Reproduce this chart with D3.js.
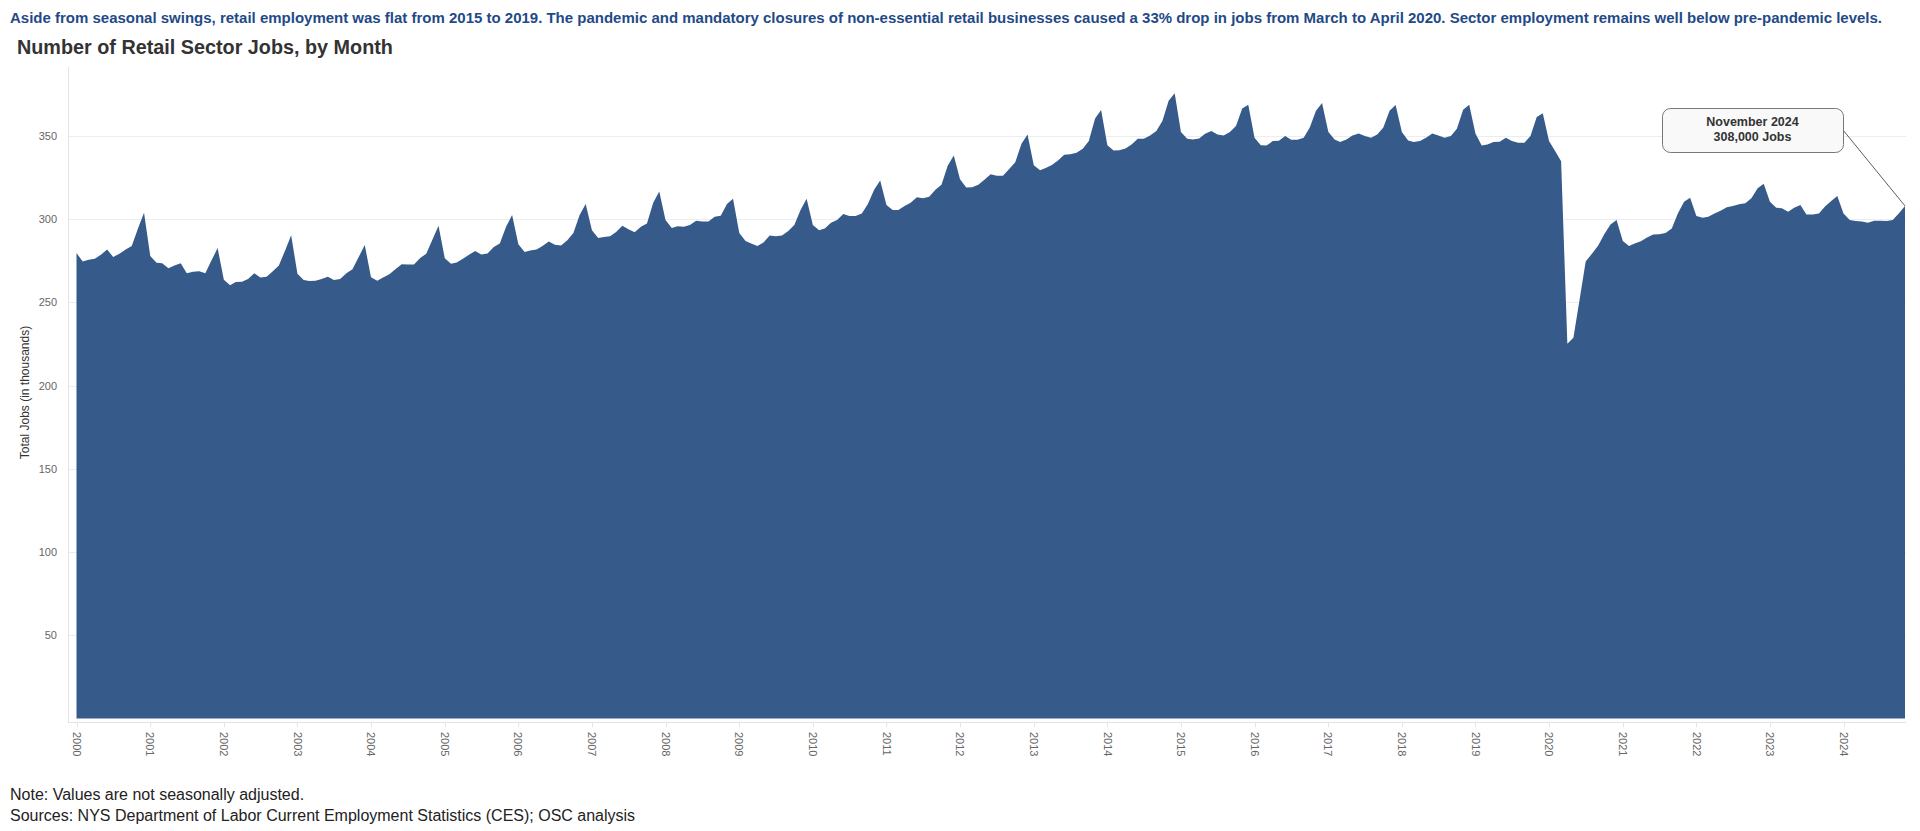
<!DOCTYPE html>
<html><head><meta charset="utf-8">
<script src="https://cdn.jsdelivr.net/npm/d3@7"></script>
<style>
body{margin:0;background:#fff;}
svg{display:block;font-family:Arial,"Liberation Sans",sans-serif;}
</style>
</head><body>
<svg id="chart" width="1920" height="831"></svg>
<script>
// ---------- data (thousands of jobs, monthly, Jan 2000 - Nov 2024) ----------
const startYear = 2000;
const startMonth = 0; // January
const jobs = [
  279.7, 274.6, 275.7, 276.3, 278.7, 281.9, 277.3, 279.3, 281.9, 283.9, 294.4, 303.9, // 2000
  277.9, 273.8, 273.6, 270.6, 272.2, 273.6, 267.6, 268.4, 268.8, 267.6, 275.3, 282.7, // 2001
  263.7, 260.3, 262.3, 262.5, 264.1, 267.6, 265.0, 265.4, 268.8, 272.2, 281.3, 290.4, // 2002
  267.2, 263.5, 262.9, 263.1, 264.1, 265.5, 263.5, 264.1, 267.6, 270.0, 277.3, 284.5, // 2003
  265.2, 263.1, 265.0, 267.0, 270.0, 273.0, 272.8, 272.8, 276.7, 279.3, 287.8, 296.1, // 2004
  276.6, 273.3, 274.0, 276.3, 278.7, 280.9, 278.9, 279.5, 283.3, 285.4, 295.5, 302.5, // 2005
  285.0, 280.3, 281.3, 281.9, 283.9, 286.6, 284.7, 284.3, 287.4, 291.8, 302.5, 309.2, // 2006
  293.4, 288.8, 289.4, 289.8, 292.4, 296.1, 294.0, 292.2, 295.5, 297.5, 310.0, 316.7, // 2007
  299.5, 294.8, 295.8, 295.5, 296.5, 299.1, 298.7, 298.7, 301.5, 302.1, 309.2, 312.4, // 2008
  291.8, 287.0, 285.4, 283.9, 286.0, 290.2, 289.8, 290.2, 293.0, 296.5, 305.6, 312.4, // 2009
  296.5, 293.4, 294.4, 297.9, 299.5, 303.1, 301.9, 301.9, 303.5, 309.2, 317.7, 323.3, // 2010
  308.6, 305.6, 305.6, 308.0, 310.0, 313.2, 312.6, 313.6, 317.7, 320.7, 332.2, 338.3, // 2011
  324.1, 319.1, 319.3, 320.7, 323.7, 327.0, 326.2, 326.2, 330.2, 334.2, 345.4, 351.0, // 2012
  332.4, 329.4, 330.8, 332.6, 335.3, 338.7, 339.1, 339.9, 342.3, 347.0, 360.5, 365.6, // 2013
  344.5, 341.3, 341.5, 342.5, 345.0, 348.4, 348.4, 350.4, 353.0, 359.1, 371.2, 375.7, // 2014
  352.4, 348.4, 348.0, 348.6, 351.4, 353.0, 351.0, 350.4, 352.4, 356.1, 366.6, 368.8, // 2015
  349.0, 344.5, 344.3, 347.0, 347.2, 350.0, 347.8, 347.8, 349.0, 355.1, 365.2, 369.8, // 2016
  352.6, 348.0, 346.4, 348.0, 350.4, 351.6, 350.0, 349.0, 351.0, 355.1, 365.2, 368.6, // 2017
  352.4, 347.4, 346.4, 347.0, 349.0, 351.6, 350.4, 349.0, 350.0, 354.4, 365.8, 368.8, // 2018
  351.6, 344.3, 344.9, 346.4, 346.6, 349.0, 347.0, 346.0, 346.0, 350.0, 361.5, 363.7, // 2019
  347.0, 340.9, 334.8, 225.2, 228.8, 252.0, 274.6, 279.3, 284.3, 291.0, 296.9, 299.5, // 2020
  287.0, 283.9, 285.4, 286.8, 289.0, 290.8, 291.0, 291.8, 294.4, 303.5, 310.6, 313.0, // 2021
  301.9, 300.9, 301.5, 303.5, 305.1, 307.2, 308.0, 309.0, 309.6, 312.6, 318.7, 321.3, // 2022
  310.6, 306.9, 306.6, 304.5, 306.9, 308.6, 302.9, 302.9, 303.5, 307.6, 311.0, 314.0, // 2023
  303.5, 299.5, 298.9, 298.7, 297.9, 299.1, 299.1, 298.9, 299.5, 303.5, 308.0          // 2024
];
const yTicks = [50, 100, 150, 200, 250, 300, 350];
const xTickYears = d3.range(2000, 2025);
const annotationLines = ["November 2024", "308,000 Jobs"];
const subtitleText = "Aside from seasonal swings, retail employment was flat from 2015 to 2019. The pandemic and mandatory closures of non-essential retail businesses caused a 33% drop in jobs from March to April 2020. Sector employment remains well below pre-pandemic levels.";
const titleText = "Number of Retail Sector Jobs, by Month";
const yAxisTitle = "Total Jobs (in thousands)";
const footNotes = ["Note: Values are not seasonally adjusted.",
                   "Sources: NYS Department of Labor Current Employment Statistics (CES); OSC analysis"];

// ---------- build ----------
const data = jobs.map((v, i) => ({date: new Date(startYear, startMonth + i, 1), value: v}));
const last = data[data.length - 1];

const svg = d3.select("#chart");
const plotLeft = 68, plotRight = 1906, plotTop = 67, axisY = 722;

const x = d3.scaleTime()
  .domain([data[0].date, last.date])
  .range([76.5, 1905]);
const y = d3.scaleLinear()
  .domain([0, 391.5])
  .range([718.5, plotTop]);

// subtitle & title
svg.append("text").attr("x", 10).attr("y", 23).attr("font-size", 14).attr("font-weight", "bold")
  .attr("fill", "#1f4a87").attr("textLength", 1872).attr("lengthAdjust", "spacingAndGlyphs")
  .text(subtitleText);
svg.append("text").attr("x", 17).attr("y", 53.5).attr("font-size", 19.8).attr("font-weight", "bold")
  .attr("fill", "#333").text(titleText);

// gridlines
svg.append("g").selectAll("line").data(yTicks).join("line")
  .attr("x1", plotLeft).attr("x2", plotRight)
  .attr("y1", d => Math.round(y(d)) + 0.5).attr("y2", d => Math.round(y(d)) + 0.5)
  .attr("stroke", "#ededed").attr("stroke-width", 1);

// area
const area = d3.area()
  .x(d => x(d.date))
  .y0(y(0))
  .y1(d => y(d.value));
svg.append("path").datum(data).attr("d", area).attr("fill", "#365a89");

// y axis line
svg.append("line").attr("x1", plotLeft + 0.5).attr("x2", plotLeft + 0.5)
  .attr("y1", plotTop).attr("y2", axisY).attr("stroke", "#e3e3e3");
// x axis line
svg.append("line").attr("x1", plotLeft).attr("x2", plotRight)
  .attr("y1", axisY + 0.5).attr("y2", axisY + 0.5).attr("stroke", "#e3e3e3");

// y tick labels
svg.append("g").selectAll("text").data(yTicks).join("text")
  .attr("x", 57).attr("y", d => y(d)).attr("dy", "0.35em")
  .attr("text-anchor", "end").attr("font-size", 11).attr("fill", "#666")
  .text(d => d);

// y axis title
svg.append("text").attr("transform", `translate(25,${(plotTop + 718) / 2}) rotate(-90)`)
  .attr("text-anchor", "middle").attr("dy", "0.35em").attr("font-size", 12).attr("fill", "#333")
  .text(yAxisTitle);

// x ticks & labels
const xTicks = xTickYears.map(yr => new Date(yr, 0, 1));
svg.append("g").selectAll("line").data(xTicks).join("line")
  .attr("x1", d => Math.round(x(d)) + 0.5).attr("x2", d => Math.round(x(d)) + 0.5)
  .attr("y1", axisY + 1).attr("y2", axisY + 5).attr("stroke", "#e3e3e3");
svg.append("g").selectAll("text").data(xTicks).join("text")
  .attr("transform", d => `translate(${x(d)},732) rotate(90)`)
  .attr("dy", "0.35em").attr("font-size", 11).attr("fill", "#666")
  .text(d => d3.timeFormat("%Y")(d));

// annotation
const bx = 1662, by = 108, bw = 181, bh = 44;
svg.append("line").attr("x1", bx + bw).attr("y1", by + 22)
  .attr("x2", x(last.date)).attr("y2", y(last.value))
  .attr("stroke", "#333").attr("stroke-width", 0.8);
svg.append("rect").attr("x", bx + 0.5).attr("y", by + 0.5).attr("width", bw).attr("height", bh)
  .attr("rx", 8).attr("ry", 8).attr("fill", "#f9f9f9").attr("stroke", "#777").attr("stroke-width", 1);
svg.append("g").selectAll("text").data(annotationLines).join("text")
  .attr("x", bx + bw / 2).attr("y", (d, i) => 126 + i * 15)
  .attr("text-anchor", "middle").attr("font-size", 12.5).attr("font-weight", "bold").attr("fill", "#333")
  .text(d => d);

// footnotes
svg.append("g").selectAll("text").data(footNotes).join("text")
  .attr("x", 10).attr("y", (d, i) => 800 + i * 20.5)
  .attr("font-size", 16).attr("fill", "#222")
  .text(d => d);
</script>
</body></html>
